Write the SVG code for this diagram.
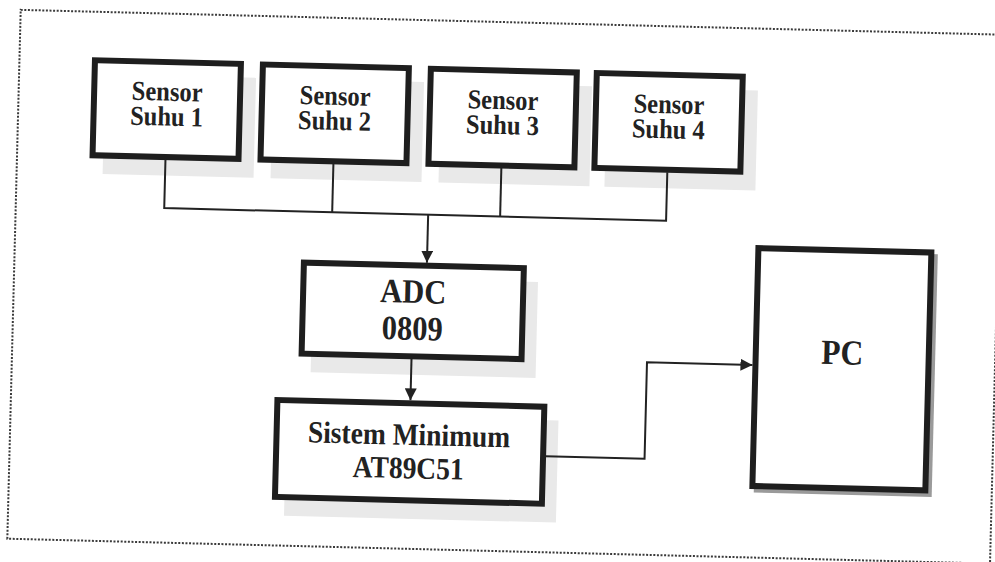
<svg xmlns="http://www.w3.org/2000/svg" width="995" height="562" viewBox="0 0 995 562">
<defs>
<style>
.box{fill:#fff;stroke:#1e1e1e;stroke-width:6}
.shadow{fill:#e9e9e9}
.wire{fill:none;stroke:#222;stroke-width:2}
.border{fill:none;stroke:#3a3a3a;stroke-width:2;stroke-dasharray:2 1.6}
text{font-family:"Liberation Serif","Times New Roman",serif;font-weight:bold;fill:#222;text-anchor:middle}
.s{font-size:24.5px}
.m{font-size:27.5px}
.l{font-size:30.5px}
</style>
<marker id="arr" viewBox="0 0 10 10" refX="10" refY="5" markerWidth="12" markerHeight="12" markerUnits="userSpaceOnUse" orient="auto">
<path d="M0,0 L10,5 L0,10 Z" fill="#222"/>
</marker>
</defs>
<rect width="995" height="562" fill="#fff"/>
<g transform="rotate(1.45 497 281)">
<rect class="border" x="14" y="22" width="983" height="529"/>

<g id="sensor1">
<rect class="shadow" x="100" y="84" width="151" height="100"/>
<rect class="box" x="89.5" y="70.5" width="146" height="95"/>
<text class="s" transform="translate(162.5,109) scale(1,1.12)">Sensor</text>
<text class="s" transform="translate(162.5,134) scale(1,1.12)">Suhu 1</text>
</g>
<g id="sensor2">
<rect class="shadow" x="268" y="84" width="151" height="100"/>
<rect class="box" x="257.5" y="70.5" width="146" height="95"/>
<text class="s" transform="translate(330.5,109) scale(1,1.12)">Sensor</text>
<text class="s" transform="translate(330.5,134) scale(1,1.12)">Suhu 2</text>
</g>
<g id="sensor3">
<rect class="shadow" x="436" y="84" width="151" height="100"/>
<rect class="box" x="425.5" y="70.5" width="146" height="95"/>
<text class="s" transform="translate(498.5,109) scale(1,1.12)">Sensor</text>
<text class="s" transform="translate(498.5,134) scale(1,1.12)">Suhu 3</text>
</g>
<g id="sensor4">
<rect class="shadow" x="602" y="84" width="151" height="100"/>
<rect class="box" x="591.5" y="70.5" width="146" height="95"/>
<text class="s" transform="translate(664.5,109) scale(1,1.12)">Sensor</text>
<text class="s" transform="translate(664.5,134) scale(1,1.12)">Suhu 4</text>
</g>

<g id="adc">
<rect class="shadow" x="313" y="281" width="225" height="96"/>
<rect class="box" x="303.5" y="267.5" width="220" height="91"/>
<text class="l" transform="translate(413.5,305) scale(1,1.12)">ADC</text>
<text class="l" transform="translate(413.5,342) scale(1,1.12)">0809</text>
</g>

<g id="sistem">
<rect class="shadow" x="290" y="419" width="272" height="102"/>
<rect class="box" x="280.5" y="405.5" width="267" height="97"/>
<text class="m" transform="translate(413,447) scale(1,1.12)">Sistem Minimum</text>
<text class="m" transform="translate(413,480.5) scale(1,1.12)">AT89C51</text>
</g>

<g id="pc">
<rect x="759" y="243" width="178" height="243" fill="#9a9a9a"/>
<rect class="box" x="757.5" y="241.5" width="173" height="238"/>
<text class="l" transform="translate(844,355.5) scale(1,1.12)" style="font-size:31.5px">PC</text>
</g>

<g id="connectors">
<path class="wire" d="M162.5,168 V216.5 H664.5 V168"/>
<path class="wire" d="M330.5,168 V216.5"/>
<path class="wire" d="M498.5,168 V216.5"/>
<path class="wire" d="M426.5,216.5 V264.5" marker-end="url(#arr)"/>
<path class="wire" d="M413.5,361 V402.5" marker-end="url(#arr)"/>
<path class="wire" d="M550,455 H649 V358.5 H754.5" marker-end="url(#arr)"/>
</g>
</g>
</svg>
